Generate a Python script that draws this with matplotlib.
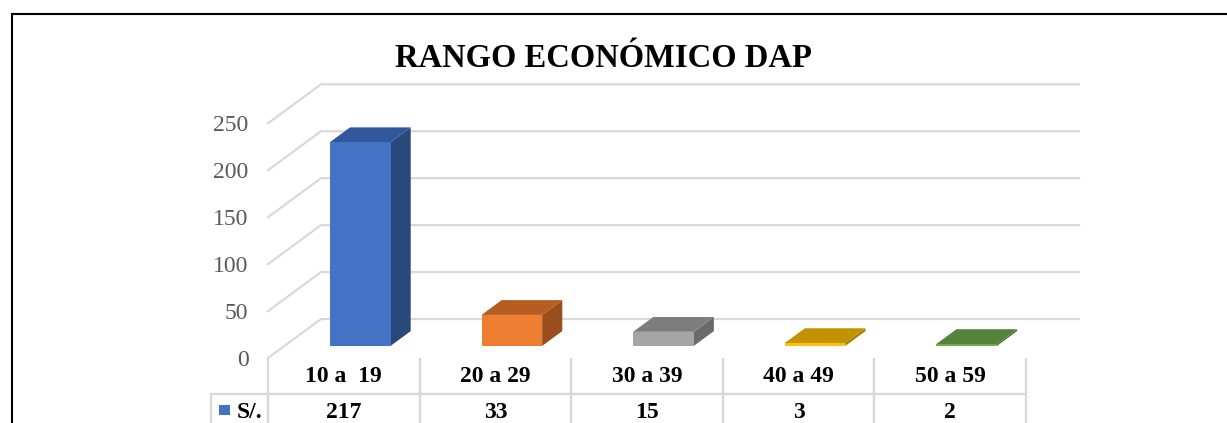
import matplotlib
matplotlib.use('Agg')
import matplotlib.pyplot as plt
from matplotlib.patches import Polygon, Rectangle

plt.rcParams['font.family'] = 'Liberation Serif'

# datos
rangos = ['10 a  19', '20 a 29', '30 a 39', '40 a 49', '50 a 59']
valores = [217, 33, 15, 3, 2]
serie = 'S/.'
yticks = [0, 50, 100, 150, 200, 250]

# colores de cada barra: frente, tapa, costado
frente = ['#4472C4', '#ED7D31', '#A5A5A5', '#FFC000', '#70AD47']
tapa = ['#31589C', '#B65E21', '#7D7D7D', '#C29200', '#55833A']
costado = ['#2A4879', '#9A4E1B', '#6A6A6A', '#A57C00', '#497130']
grid_c = '#D9D9D9'

W, H = 1227, 423
fig = plt.figure(figsize=(W / 100, H / 100), dpi=100)

# plano frontal del grafico (pixeles)
x_izq, x_der = 268, 1026
y_cero, y_top = 358, 123.3
ax = fig.add_axes([x_izq / W, (H - y_cero) / H, (x_der - x_izq) / W, (y_cero - y_top) / H])
ax.set_xlim(-0.5, len(rangos) - 0.5)
ax.set_ylim(0, 250)
for s in ax.spines.values():
    s.set_visible(False)
ax.set_xticks([])
ax.set_yticks(yticks)
ax.tick_params(axis='y', length=0, pad=14, labelsize=17, labelcolor='#595959')

# profundidad del piso en unidades de datos
px_x = (x_der - x_izq) / len(rangos)
px_y = (y_cero - y_top) / 250
prof_x = 53 / px_x
prof_y = 39 / px_y

# lineas de la pared del fondo
for v in yticks:
    ax.plot([-0.5, -0.5 + prof_x, len(rangos) - 0.5 + prof_x],
            [v, v + prof_y, v + prof_y],
            color=grid_c, lw=1.6, clip_on=False, zorder=0)

# barras 3d
ancho = 0.40
f0, f1 = 0.31, 0.69
dx = (f1 - f0) * prof_x
dy = (f1 - f0) * prof_y
for i, v in enumerate(valores):
    x0 = i - ancho / 2 + f0 * prof_x
    y0 = f0 * prof_y
    x1 = x0 + ancho
    cara = Polygon([(x0, y0), (x1, y0), (x1, y0 + v), (x0, y0 + v)],
                   closed=True, fc=frente[i], ec='none', clip_on=False, zorder=3)
    arriba = Polygon([(x0, y0 + v), (x1, y0 + v), (x1 + dx, y0 + v + dy), (x0 + dx, y0 + v + dy)],
                     closed=True, fc=tapa[i], ec='none', clip_on=False, zorder=3)
    lado = Polygon([(x1, y0), (x1 + dx, y0 + dy), (x1 + dx, y0 + v + dy), (x1, y0 + v)],
                   closed=True, fc=costado[i], ec='none', clip_on=False, zorder=3)
    for p in (lado, arriba, cara):
        ax.add_patch(p)

# tabla de datos (primera columna = nombre de la serie)
w_ax = x_der - x_izq
h_ax = y_cero - y_top
etiqueta_px = 57
col_w = [etiqueta_px / w_ax] + [1 / len(rangos)] * len(rangos)
alto_fila = 36 / h_ax
tabla = ax.table(cellText=[[serie] + [str(v) for v in valores]],
                 colLabels=[''] + rangos, colWidths=col_w, cellLoc='center',
                 bbox=[-etiqueta_px / w_ax, -2 * alto_fila, 1 + etiqueta_px / w_ax, 2 * alto_fila])
tabla.auto_set_font_size(False)
for (r, c), celda in tabla.get_celld().items():
    celda.set_edgecolor(grid_c)
    celda.set_linewidth(1.6)
    celda.set_facecolor('none')
    txt = celda.get_text()
    txt.set_fontsize(17)
    txt.set_fontweight('bold')
    txt.set_color('black')
    if r == 0:
        celda.visible_edges = '' if c == 0 else 'LRB'
    else:
        celda.visible_edges = 'closed'
        if c == 0:
            celda._loc = 'right'
            txt.set_horizontalalignment('right')

# marca de la serie en la tabla
ax.add_patch(Rectangle((-49 / w_ax, -57 / h_ax), 11 / w_ax, 10 / h_ax,
                       transform=ax.transAxes, fc=frente[0], ec='none', clip_on=False))

# titulo
fig.text(603.5 / W, 1 - 67 / H, 'RANGO ECONÓMICO DAP', ha='center', va='baseline',
         fontsize=23.5, fontweight='bold')

# borde del area
fig.add_artist(Rectangle((12 / W, -0.05), 1.1, 1 - 14 / H + 0.05, transform=fig.transFigure,
                         fc='none', ec='black', lw=1.5))

fig.savefig('out.png', dpi=100)
